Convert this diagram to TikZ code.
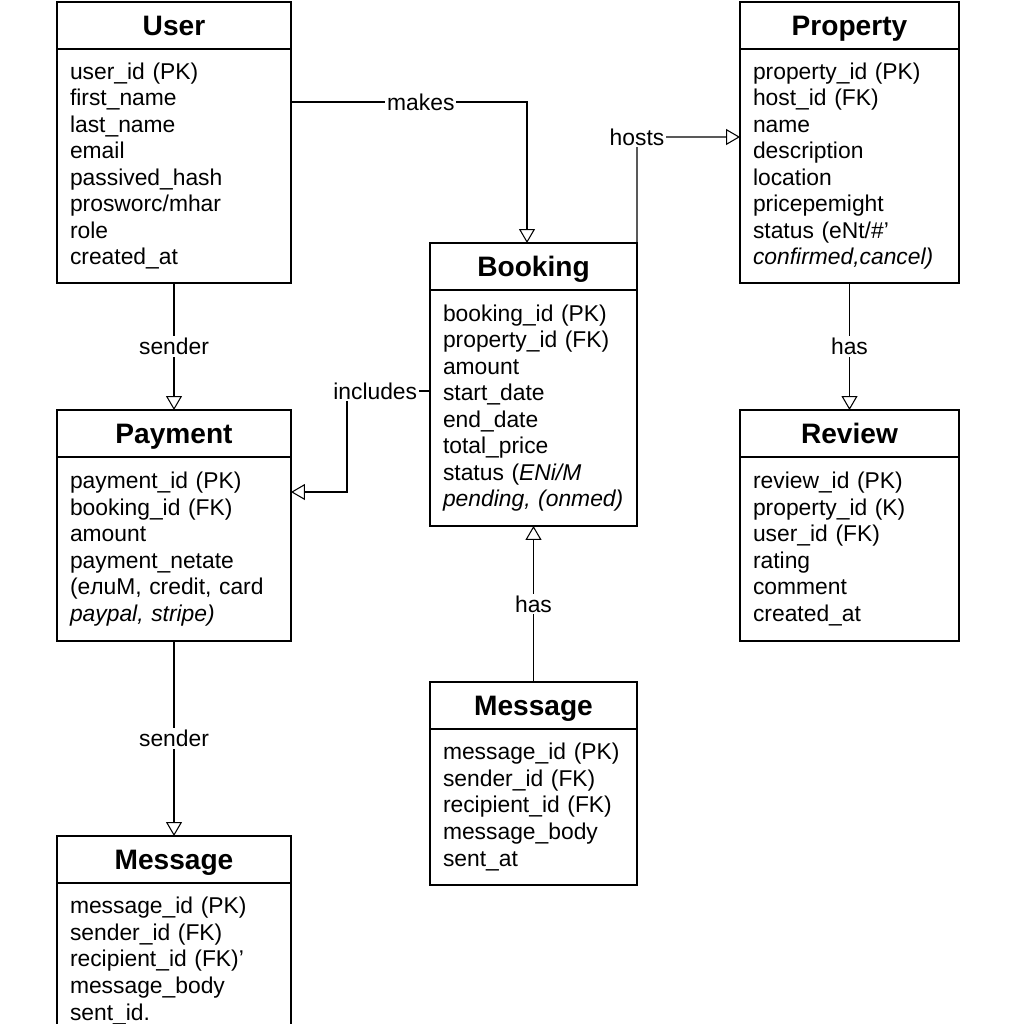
\documentclass[tikz,border=0pt]{standalone}
\usepackage{fontspec}
\setmainfont{Liberation Sans}
\usetikzlibrary{positioning}
\usetikzlibrary{arrows.meta}
\tikzstyle{entity} = [draw, line width=0.8pt, minimum height=0.94cm, outer sep=0pt, text height=11.5pt, text depth=0pt, font=\bfseries\fontsize{16}{19}\selectfont]
\tikzstyle{attrs} = [draw, line width=0.8pt, inner xsep=0.26cm, outer sep=0pt, align=left, font=\fontsize{13}{15.1}\selectfont]
\tikzstyle{link} = [draw, line width=0.6pt, -{Triangle[open, length=0.28cm, width=0.32cm]}]
\tikzstyle{lbl} = [fill=white, inner sep=1pt, font=\fontsize{13}{15}\selectfont]

\begin{document}
\begin{tikzpicture}[x=0.02cm, y=-0.02cm]
    \useasboundingbox (0,0) rectangle (1024,1024);
    \clip (0,0) rectangle (1024,1024);
    \fill [white] (0,0) rectangle (1024,1024);
    % entities
    \node [entity, minimum width=4.68cm] (user) at (174,25.5) {User};
    \node [attrs, text width=4.16cm, minimum height=4.68cm, below=0pt of user] (userattr) {user\_id (PK)\\first\_name\\last\_name\\email\\passived\_hash\\prosworc/mhar\\role\\created\_at};
    \node [entity, minimum width=4.38cm] (prop) at (849.5,25.5) {Property};
    \node [attrs, text width=3.86cm, minimum height=4.68cm, below=0pt of prop] (propattr) {property\_id (PK)\\host\_id (FK)\\name\\description\\location\\pricepemight\\status (eNt/\#'\\\mbox{\itshape confirmed,cancel)}};
    \node [entity, minimum width=4.14cm] (book) at (533.5,266.5) {Booking};
    \node [attrs, text width=3.62cm, minimum height=4.72cm, below=0pt of book] (bookattr) {booking\_id (PK)\\property\_id (FK)\\amount\\start\_date\\end\_date\\total\_price\\status (\textit{ENi/M}\\\textit{pending, (onmed)}};
    \node [entity, minimum width=4.68cm] (pay) at (174,433.5) {Payment};
    \node [attrs, text width=4.16cm, minimum height=3.68cm, below=0pt of pay] (payattr) {payment\_id (PK)\\booking\_id (FK)\\amount\\payment\_netate\\(eлuM, credit, card\\\textit{paypal, stripe)}};
    \node [entity, minimum width=4.38cm] (review) at (849.5,433.5) {Review};
    \node [attrs, text width=3.86cm, minimum height=3.68cm, below=0pt of review] (reviewattr) {review\_id (PK)\\property\_id (K)\\user\_id (FK)\\rating\\comment\\created\_at};
    \node [entity, minimum width=4.14cm] (msg) at (533.5,705.5) {Message};
    \node [attrs, text width=3.62cm, minimum height=3.12cm, below=0pt of msg] (msgattr) {message\_id (PK)\\sender\_id (FK)\\recipient\_id (FK)\\message\_body\\sent\_at};
    \node [entity, minimum width=4.68cm] (msgb) at (174,859.5) {Message};
    \node [attrs, text width=4.16cm, minimum height=3.12cm, below=0pt of msgb] (msgbattr) {message\_id (PK)\\sender\_id (FK)\\recipient\_id (FK)'\\message\_body\\sent\_id.};
    % bends of the connectors
    \coordinate (makesc) at (527,102);
    \coordinate (hostc) at (637,137);
    \coordinate (inclc) at (347,391);
    \coordinate (inclb) at (347,492);
    % relations
    \path [link] (makesc -| userattr.east) -- node [lbl, pos=0.55] {makes} (makesc) -- (makesc |- book.north);
    \path [link] (book.north east) -- (hostc) node [lbl] {hosts} -- (hostc -| propattr.west);
    \path [link] (inclc -| bookattr.west) -- node [lbl, pos=0.66] {includes} (inclc) -- (inclb) -- (inclb -| payattr.east);
    \path [link] (userattr) -- node [lbl] {sender} (pay);
    \path [link] (propattr) -- node [lbl] {has} (review);
    \path [link] (msg) -- node [lbl] {has} (bookattr);
    \path [link] (payattr) -- node [lbl] {sender} (msgb);
  \end{tikzpicture}
\end{document}
